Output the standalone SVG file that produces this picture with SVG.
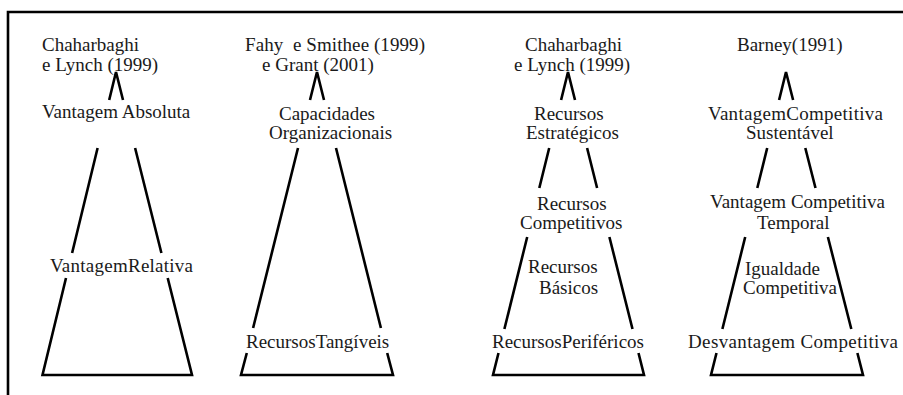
<svg xmlns="http://www.w3.org/2000/svg" width="903" height="395" viewBox="0 0 903 395">
<style>
text{font-family:"Liberation Serif","Times New Roman",serif;font-size:19px;fill:#1a1a1a}
.ln{stroke:#000;stroke-width:2.6;fill:none;stroke-linecap:butt}
.fr{stroke:#000;stroke-width:2.6;fill:none}
</style>
<rect width="903" height="395" fill="#fff"/>
<g id="frame"><path class="fr" d="M8,395 V12 H903"/></g>
<g id="connectors">
<path class="ln" d="M109.2,100 L116,72 L123,100 M97.6,148 L72.1,253 M66,278 L42.5,375 H192 L167.7,278 M161.4,253 L135.1,148"/>
<path class="ln" d="M310,100 L317,72 L324,100 M298,148 L253.1,328 M246.8,353 L241,375 H393 L387.2,353 M380.9,328 L336,148"/>
<path class="ln" d="M561.1,100 L568,72 L575,100 M549.2,148 L539.3,188 M527.2,237 L504.4,329 M498.5,353 L493,375 H644 L638.5,353 M632.5,329 L609.4,237 M597.1,188 L587.1,148"/>
<path class="ln" d="M779.1,100 L786,72 L793.1,100 M767.2,148 L757.3,188 M745.2,237 L722.4,329 M716.5,353 L711,375 H863 L857.4,353 M851.3,329 L827.9,237 M815.5,188 L805.3,148"/>
</g>
<g id="p1-source"><text x="42" y="51">Chaharbaghi</text><text x="42" y="71">e Lynch (1999)</text></g>
<g id="p1-top"><text x="42" y="118">Vantagem Absoluta</text></g>
<g id="p1-base"><text x="50" y="272" textLength="143">VantagemRelativa</text></g>
<g id="p2-source"><text x="245" y="51" xml:space="preserve" textLength="180">Fahy  e Smithee (1999)</text><text x="262" y="71">e Grant (2001)</text></g>
<g id="p2-top"><text x="279" y="120">Capacidades</text><text x="269" y="139">Organizacionais</text></g>
<g id="p2-base"><text x="246" y="348">RecursosTangíveis</text></g>
<g id="p3-source"><text x="525" y="51">Chaharbaghi</text><text x="514" y="71">e Lynch (1999)</text></g>
<g id="p3-top"><text x="534" y="120">Recursos</text><text x="526" y="139">Estratégicos</text></g>
<g id="p3-mid"><text x="537" y="210">Recursos</text><text x="520" y="229">Competitivos</text></g>
<g id="p3-low"><text x="528" y="273">Recursos</text><text x="539" y="294">Básicos</text></g>
<g id="p3-base"><text x="492" y="348">RecursosPeriféricos</text></g>
<g id="p4-source"><text x="737" y="51">Barney(1991)</text></g>
<g id="p4-top"><text x="708" y="120" textLength="175">VantagemCompetitiva</text><text x="746" y="139">Sustentável</text></g>
<g id="p4-mid"><text x="710" y="208" textLength="175">Vantagem Competitiva</text><text x="757" y="229">Temporal</text></g>
<g id="p4-low"><text x="745" y="275">Igualdade</text><text x="743" y="294">Competitiva</text></g>
<g id="p4-base"><text x="688" y="348" textLength="210">Desvantagem Competitiva</text></g>
</svg>
